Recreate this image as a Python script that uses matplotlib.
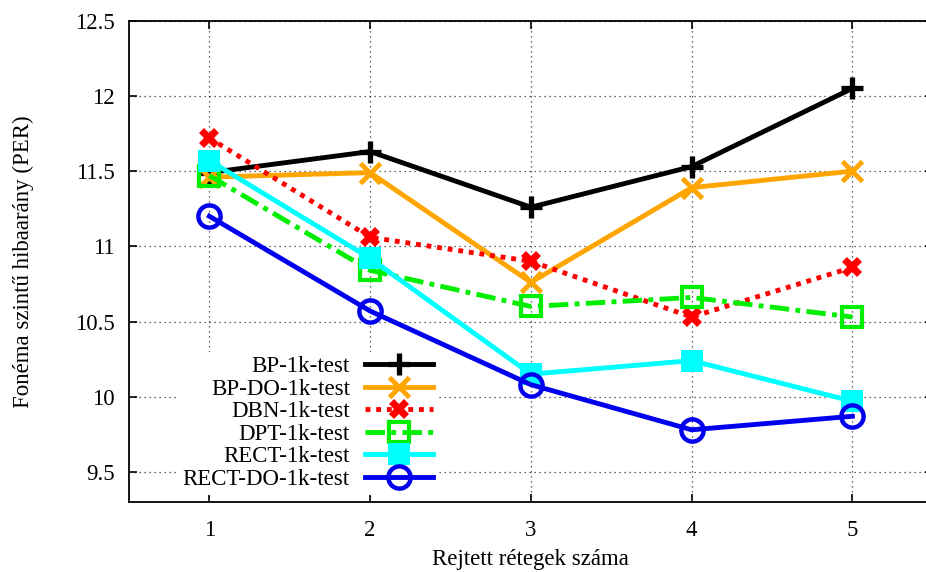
import matplotlib
matplotlib.use("Agg")
import matplotlib.pyplot as plt

plt.rcParams['font.family'] = ['Liberation Serif', 'DejaVu Serif']

# Rejtett retegek szama
layers = [1, 2, 3, 4, 5]

bp = [11.49, 11.63, 11.26, 11.53, 12.05]
bp_do = [11.46, 11.49, 10.76, 11.39, 11.50]
dbn = [11.72, 11.06, 10.90, 10.53, 10.86]
dpt = [11.47, 10.84, 10.60, 10.66, 10.53]
rect = [11.57, 10.92, 10.15, 10.24, 9.97]
rect_do = [11.20, 10.57, 10.08, 9.78, 9.87]

labels = ["BP-1k-test", "BP-DO-1k-test", "DBN-1k-test",
          "DPT-1k-test", "RECT-1k-test", "RECT-DO-1k-test"]

yticks = [9.5, 10, 10.5, 11, 11.5, 12, 12.5]
yticklabels = ["9.5", "10", "10.5", "11", "11.5", "12", "12.5"]

fs = 16.5

fig = plt.figure(figsize=(9.26, 5.72), dpi=100)
ax = fig.add_axes([0.1393, 0.1224, 0.868, 0.8414])

lw = 3.5
ax.plot(layers, bp, color='black', lw=lw, marker='+', ms=16, mew=3.8, label=labels[0])
ax.plot(layers, bp_do, color='#ffa500', lw=lw, marker='x', ms=14, mew=3.5, label=labels[1])
ax.plot(layers, dbn, color='red', lw=lw, ls=(0, (1, 1.2)), marker='X', ms=15, mew=0, label=labels[2])
ax.plot(layers, dpt, color='#00ee00', lw=lw, ls=(0, (4, 1.3, 1, 1.3)), marker='s', ms=14,
        mew=3, mfc='none', label=labels[3])
ax.plot(layers, rect, color='cyan', lw=lw, marker='s', ms=16, mew=0, label=labels[4])
ax.plot(layers, rect_do, color='#0000ee', lw=lw, marker='o', ms=16, mew=3.2, mfc='none',
        label=labels[5])

ax.set_xlim(0.5, 5.5)
ax.set_ylim(9.3, 12.5)
ax.set_xticks(layers)
ax.set_yticks(yticks)
ax.set_yticklabels(yticklabels)
ax.tick_params(direction='in', length=6, width=1.2, labelsize=fs, pad=10,
               top=True, right=True)
ax.tick_params(axis='x', pad=13)
for s in ax.spines.values():
    s.set_linewidth(1.3)

ax.grid(True, color='black', ls=(0, (1, 3)), lw=0.9, alpha=0.8)
ax.set_axisbelow(True)

ax.set_xlabel("Rejtett rétegek száma", fontsize=fs, labelpad=6)
ax.set_ylabel("Fonéma szintű hibaarány (PER)", fontsize=fs, labelpad=30)

leg = ax.legend(loc='lower right', bbox_to_anchor=(0.3837, 0.0154), markerfirst=False,
                numpoints=1, fontsize=fs, handlelength=2.97, handletextpad=0.65,
                labelspacing=0.065, borderpad=0.2, borderaxespad=0, fancybox=False,
                framealpha=1, edgecolor='none', facecolor='white')

fig.savefig("out.png", dpi=100)
